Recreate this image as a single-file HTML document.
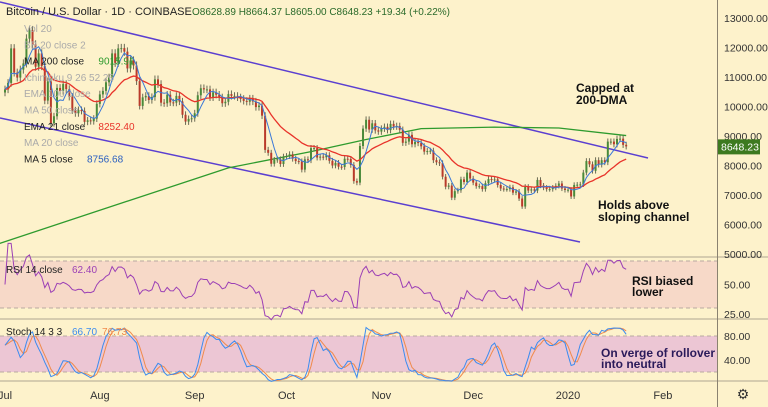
<!DOCTYPE html>
<html><head><meta charset="utf-8"><style>
body{margin:0;background:#fdf2cb;font-family:"Liberation Sans",sans-serif}
svg{display:block}
</style></head><body>
<svg id="c" width="768" height="407" xmlns="http://www.w3.org/2000/svg"></svg>
<script>
const closes=[10580,10800,11970,11150,10980,11250,11460,12300,12580,12100,11350,11800,11370,10200,10850,9430,9670,10630,10530,10760,10590,10330,9870,9770,9880,9850,9480,9530,9500,9590,10090,
10410,10530,10820,10980,11800,11480,11970,11980,11860,11290,11560,11390,10860,10020,10310,10360,10220,10320,10920,10760,10130,10110,10400,10140,10130,10360,10170,9720,9490,9580,9600,
9770,10380,10620,10580,10580,10310,10480,10400,10310,10110,10160,10420,10360,10360,10310,10260,10190,10160,10270,10170,9980,10030,9690,8530,8430,8060,8190,8210,8050,8300,
8320,8380,8230,8150,8140,7860,8210,8180,8590,8590,8270,8300,8280,8350,8160,8000,8090,7960,7950,8230,8220,8020,7470,7420,8660,9250,9550,9220,9430,9190,9150,
9250,9310,9200,9410,9320,9340,9210,8770,8810,9040,8720,8800,8760,8650,8470,8490,8500,8180,8110,8080,7620,7280,7320,6910,7130,7160,7530,7440,7760,7560,
7420,7300,7300,7200,7400,7540,7510,7530,7340,7220,7200,7200,7260,7080,7120,6880,6610,7280,7150,7190,7150,7510,7320,7250,7200,7200,7250,7310,7390,7220,7170,
7180,6950,7340,7350,7360,7760,8150,8040,7820,8180,8030,8180,8110,8810,8810,8720,8900,8910,8700,8648];
const ma200Days=[-2,30,73,100,118,136,160,181,203];
const ma200Vals=[5350,6450,7920,8470,8880,9250,9300,9270,9015];
const priceTicks=[13000,12000,11000,10000,9000,8000,7000,6000,5000];
const rsiTicks=[50,25];
const stochTicks=[80,40];
const monthLabels=["Jul","Aug","Sep","Oct","Nov","Dec","2020","Feb"];
const monthDays=[0,31,62,92,123,153,184,215];

const NS="http://www.w3.org/2000/svg",S=document.getElementById('c');
function el(t,a,p){const e=document.createElementNS(NS,t);for(const k in a)e.setAttribute(k,a[k]);(p||S).appendChild(e);return e;}
const X=d=>5+d*3.06;
const PY=p=>18+(13000-p)*0.0295;
const RY=v=>284.5-(v-50)*1.175;
const SY=v=>384-v*0.6;
const PW=717;
let r;
r=el('rect',{x:0,y:0,width:768,height:407,fill:'#fdf2cb'});

r=el('rect',{x:0,y:RY(70),width:PW,height:RY(30)-RY(70),fill:'#f7d9c8'});

r=el('rect',{x:0,y:SY(80),width:PW,height:SY(20)-SY(80),fill:'#ecc6d4'});

[RY(70),RY(30),SY(80),SY(20)].forEach(y=>el('line',{x1:0,x2:PW,y1:y,y2:y,stroke:'#b9a9a0','stroke-dasharray':'4 3','stroke-width':1}));
[257,319,381].forEach(y=>el('line',{x1:0,x2:768,y1:y,y2:y,stroke:'#c9bfa4','stroke-width':1.5}));
el('line',{x1:PW+0.5,x2:PW+0.5,y1:0,y2:407,stroke:'#8a8270'});
const clip=el('clipPath',{id:'pc'});el('rect',{x:0,y:0,width:PW,height:256},clip);
const g=el('g',{'clip-path':'url(#pc)'});

r=el('line',{x1:0,y1:2,x2:648,y2:158,stroke:'#5b3fd0','stroke-width':1.5},g);

r=el('line',{x1:0,y1:118,x2:580,y2:242,stroke:'#5b3fd0','stroke-width':1.5},g);

r=el('path',{d:ma200Days.map((d,i)=>(i?'L':'M')+X(d)+','+PY(ma200Vals[i])).join(''),fill:'none',stroke:'#2e9b2e','stroke-width':1.3,'stroke-linejoin':'round'},g);

const opens=closes.map((c,i)=>i?closes[i-1]:c*0.99);
const highs=closes.map((c,i)=>Math.max(c,opens[i])*1.012);
const lows=closes.map((c,i)=>Math.min(c,opens[i])*0.988);
let ema=[],e=closes[0];closes.forEach((c,i)=>{e=i?e+(c-e)*2/22:c;ema.push(e);});
const ma5=closes.map((c,i)=>{const s=closes.slice(Math.max(0,i-4),i+1);return s.reduce((a,b)=>a+b)/s.length;});
closes.forEach((c,i)=>{const up=c>=opens[i],col=up?'#4a8a3a':'#b93a2a',x=X(i);
 el('line',{x1:x,x2:x,y1:PY(highs[i]),y2:PY(lows[i]),stroke:'#6b6b55','stroke-width':1},g);
 const b=el('rect',{x:x-1,y:PY(Math.max(c,opens[i])),width:2,height:Math.max(1,Math.abs(PY(c)-PY(opens[i]))),fill:col},g);
 });
r=el('path',{d:ema.map((v,i)=>(i?'L':'M')+X(i)+','+PY(v)).join(''),fill:'none',stroke:'#e8332a','stroke-width':1.3},g);

r=el('path',{d:ma5.map((v,i)=>(i?'L':'M')+X(i)+','+PY(v)).join(''),fill:'none',stroke:'#3a78d8','stroke-width':1},g);

let rsi=[],ag=0,al=0;
closes.forEach((c,i)=>{if(!i){rsi.push(50);return;}const d=c-closes[i-1],gn=Math.max(d,0),ls=Math.max(-d,0);
 if(i<=14){ag+=gn/14;al+=ls/14;}else{ag=(ag*13+gn)/14;al=(al*13+ls)/14;}
 rsi.push(al===0?100:100-100/(1+ag/al));});
r=el('path',{d:rsi.map((v,i)=>(i?'L':'M')+X(i)+','+RY(Math.max(15,Math.min(85,v)))).join(''),fill:'none',stroke:'#9b3fb5','stroke-width':1});

const raw=closes.map((c,i)=>{const s=Math.max(0,i-13),h=Math.max(...highs.slice(s,i+1)),l=Math.min(...lows.slice(s,i+1));return h===l?50:(c-l)/(h-l)*100;});
const sma=(a,n)=>a.map((v,i)=>{const s=a.slice(Math.max(0,i-n+1),i+1);return s.reduce((x,y)=>x+y)/s.length;});
const K=sma(raw,3),D=sma(K,3);
r=el('path',{d:D.map((v,i)=>(i?'L':'M')+X(i)+','+SY(v)).join(''),fill:'none',stroke:'#f08a4b','stroke-width':1});

r=el('path',{d:K.map((v,i)=>(i?'L':'M')+X(i)+','+SY(v)).join(''),fill:'none',stroke:'#3a8bf0','stroke-width':1});

function txt(x,y,s,a,name,inter){const t=el('text',Object.assign({x:x,y:y,'font-size':11,fill:'#333'},a||{}));t.textContent=s;
 return t;}
priceTicks.forEach(p=>txt(724,PY(p)+4,p.toFixed(2),{'font-size':10.5},'price-tick'));
rsiTicks.forEach(p=>txt(724,RY(p)+4,p.toFixed(2),{'font-size':10.5},'rsi-tick'));
stochTicks.forEach(p=>txt(724,SY(p)+4,p.toFixed(2),{'font-size':10.5},'stoch-tick'));
monthLabels.forEach((m,i)=>txt(X(monthDays[i]),399,m,{'text-anchor':'middle'},'time-label'));
r=el('rect',{x:718,y:PY(8648.23)-7,width:42,height:15,fill:'#3d7a1f'});

txt(721,PY(8648.23)+4,'8648.23',{fill:'#fff','font-size':10.5},'last-price-label');
txt(743,399,'⚙',{'text-anchor':'middle','font-size':14},'settings-gear',true);
txt(6,15,'Bitcoin / U.S. Dollar · 1D · COINBASE',{'font-size':11,fill:'#222'},'chart-title');
txt(192,15,'O8628.89  H8664.37  L8605.00  C8648.23  +19.34 (+0.22%)',{'font-size':10,fill:'#2a6a2a','xml:space':'preserve'},'ohlc-values');
const leg=[['Vol 20','#aaa',''],['BB 20 close 2','#aaa',''],['MA 200 close','#222','9015.91'],['Ichimoku 9 26 52 26','#aaa',''],['EMA 100 close','#aaa',''],['MA 50 close','#aaa',''],['EMA 21 close','#222','8252.40'],['MA 20 close','#aaa',''],['MA 5 close','#222','8756.68']];
const lc=['','','#2e9b2e','','','','#e8332a','','#2a5fc0'];
leg.forEach((l,i)=>{txt(24,32+i*16.3,l[0],{'font-size':10,fill:l[1]},'legend-entry',true);if(l[2])txt(24+l[0].length*5.7+6,32+i*16.3,l[2],{'font-size':10,fill:lc[i]},'legend-value');});
txt(6,273,'RSI 14 close',{'font-size':10,fill:'#222'},'rsi-legend');txt(72,273,'62.40',{'font-size':10,fill:'#9b3fb5'},'rsi-value');
txt(6,335,'Stoch 14 3 3',{'font-size':10,fill:'#222'},'stoch-legend');txt(72,335,'66.70',{'font-size':10,fill:'#3a8bf0'},'stoch-k-value');txt(102,335,'76.73',{'font-size':10,fill:'#f08a4b'},'stoch-d-value');
const ann=[[576,92,'Capped at'],[576,104,'200-DMA'],[598,209,'Holds above'],[598,221,'sloping channel'],[632,285,'RSI biased'],[632,296,'lower'],[601,357,'On verge of rollover'],[601,368,'into neutral']];
ann.forEach(a=>txt(a[0],a[1],a[2],{'font-size':12,'font-weight':'bold',fill:a[0]===601?'#2a1a5a':'#111'},'annotation'));
</script>
</body></html>
